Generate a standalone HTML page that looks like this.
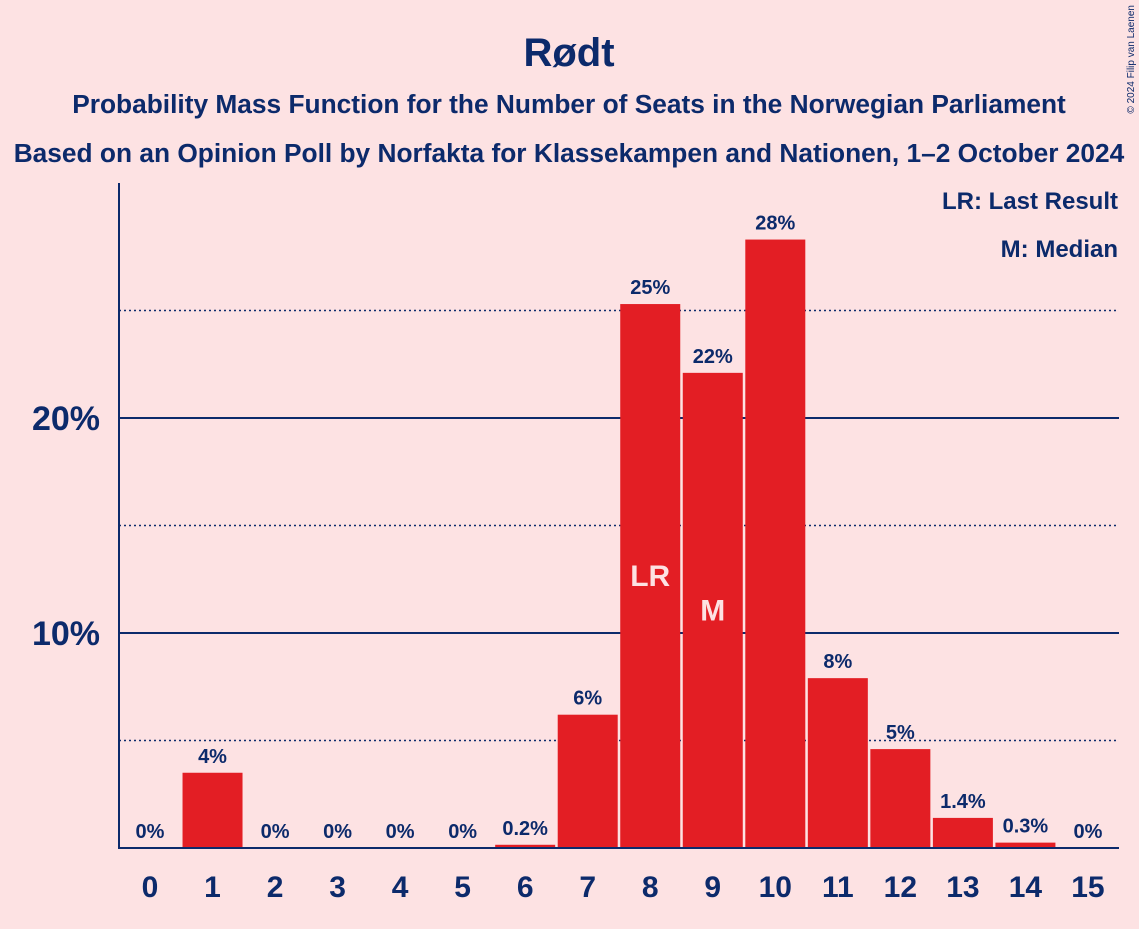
<!DOCTYPE html>
<html><head><meta charset="utf-8"><style>
body{margin:0;background:#fde2e3;}
svg text{font-family:"Liberation Sans",sans-serif;font-weight:bold;fill:#0c2a6b;}
</style></head><body>
<svg id="c" width="1139" height="924">
<text x="569" y="66" text-anchor="middle" font-size="40">Rødt</text>
<text x="569" y="113" text-anchor="middle" font-size="26.3">Probability Mass Function for the Number of Seats in the Norwegian Parliament</text>
<text x="569" y="162" text-anchor="middle" font-size="26.3">Based on an Opinion Poll by Norfakta for Klassekampen and Nationen, 1–2 October 2024</text>
<text x="1134" y="5" font-size="10" transform="rotate(-90 1134 5)" text-anchor="end" style="font-weight:normal">© 2024 Filip van Laenen</text>
<g id="grid"></g><g id="bars"></g><g id="labels"></g>
<line x1="119" y1="183" x2="119" y2="849" stroke="#0c2a6b" stroke-width="2"/>
<line x1="118" y1="848" x2="1119" y2="848" stroke="#0c2a6b" stroke-width="2"/>
<text x="1118" y="209" text-anchor="end" font-size="24">LR: Last Result</text>
<text x="1118" y="257" text-anchor="end" font-size="24">M: Median</text>
</svg>
<script>
const seats=[0,1,2,3,4,5,6,7,8,9,10,11,12,13,14,15];
const values=[0,3.5,0,0,0,0,0.15,6.2,25.3,22.1,28.3,7.9,4.6,1.4,0.25,0];
const valueLabels=["0%","4%","0%","0%","0%","0%","0.2%","6%","25%","22%","28%","8%","5%","1.4%","0.3%","0%"];
const solidTicks=[10,20];
const dottedTicks=[5,15,25];
const markers={8:"LR",9:"M"};
const NS="http://www.w3.org/2000/svg";
const y=v=>848-v*21.5;
const x=i=>150+i*62.53;
function mk(tag,attrs,parent,txt){const e=document.createElementNS(NS,tag);for(const k in attrs)e.setAttribute(k,attrs[k]);if(txt!=null)e.textContent=txt;document.getElementById(parent).appendChild(e);return e;}
dottedTicks.forEach(t=>{const l=mk('line',{x1:119,x2:1119,y1:y(t),y2:y(t),stroke:'#0c2a6b','stroke-width':1.5,'stroke-dasharray':'2,3'},'grid');

});
solidTicks.forEach(t=>{const l=mk('line',{x1:119,x2:1119,y1:y(t),y2:y(t),stroke:'#0c2a6b','stroke-width':2},'grid');


const tx=mk('text',{x:100,y:y(t)+12,'text-anchor':'end','font-size':34},'grid',t+'%');

});
seats.forEach((s,i)=>{
 const v=values[i];
 if(v>0){const r=mk('rect',{x:x(i)-30,y:y(v),width:60,height:848-y(v),fill:'#e31e24'},'bars');
 
 }
 const lb=mk('text',{x:x(i),y:y(v)-10,'text-anchor':'middle','font-size':20},'labels',valueLabels[i]);
 
 
 const xt=mk('text',{x:x(i),y:897,'text-anchor':'middle','font-size':30},'labels',String(s));
 
 
 if(markers[s]){const m=mk('text',{x:x(i),y:y(v/2)+10,'text-anchor':'middle','font-size':30,style:'fill:#fde2e3'},'labels',markers[s]);
 
 }
});
</script>
</body></html>
